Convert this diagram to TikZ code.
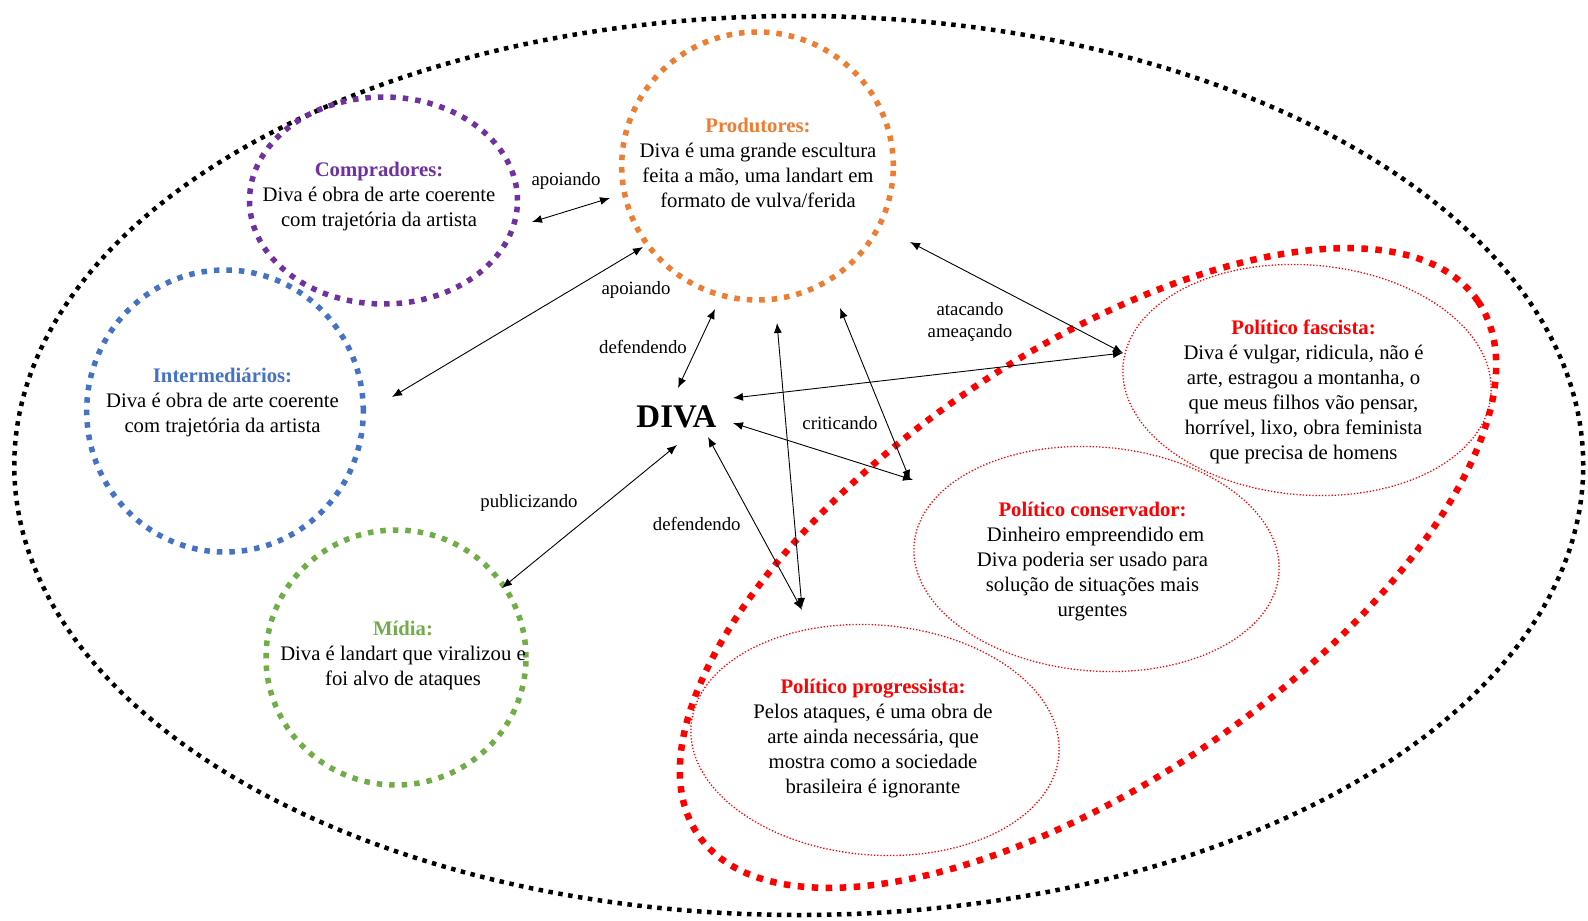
\documentclass[tikz,border=0pt]{standalone}
\usepackage{fontspec}
\setmainfont{Liberation Serif}
\usetikzlibrary{shapes.geometric,arrows.meta}
\definecolor{compcol}{HTML}{7030A0}
\definecolor{prodcol}{HTML}{ED7D31}
\definecolor{intercol}{HTML}{4472C4}
\definecolor{midiacol}{HTML}{70AD47}
\definecolor{polred}{HTML}{FF0000}
\begin{document}
\begin{tikzpicture}[x=1pt,y=-1pt,
  group/.style={ellipse, draw, inner sep=0pt, line width=5.5pt, dash pattern=on 5.5pt off 7pt},
  politico/.style={ellipse, draw=polred, inner sep=0pt, line width=1.3pt, dash pattern=on 1.3pt off 1.9pt, rotate=-4.5},
  body/.style={align=center, font=\fontsize{20.7}{25}\selectfont, inner sep=0pt},
  verb/.style={align=center, font=\fontsize{18.8}{22}\selectfont, inner sep=0pt},
  rel/.style={line width=0.9pt, {Latex[length=10pt,width=8pt]}-{Latex[length=10pt,width=8pt]}}]
\useasboundingbox (0,0) rectangle (1588,921);

% overall field and the political zone
\node[ellipse, draw, inner sep=0pt, line width=4.5pt, dash pattern=on 4.5pt off 5.5pt,
      minimum width=1569pt, minimum height=899pt] (campo) at (798.75,465.5) {};
\node[ellipse, draw=polred, inner sep=0pt, line width=6.5pt, dash pattern=on 6.5pt off 7.5pt,
      rotate=34.4, minimum width=945pt, minimum height=427pt] (politicos) at (1088,568) {};

% actor groups
\node[group, draw=compcol, minimum width=268pt, minimum height=207pt] (compradores) at (383.5,200.5) {};
\node[group, draw=prodcol, minimum width=271.6pt, minimum height=268pt] (produtores) at (757.5,166) {};
\node[group, draw=intercol, minimum width=276.6pt, minimum height=282pt] (intermediarios) at (225,411) {};
\node[group, draw=midiacol, minimum width=260pt, minimum height=255pt] (midia) at (396,657.5) {};

\node[politico, minimum width=369pt, minimum height=230pt] (fascista) at (1307,380) {};
\node[politico, minimum width=366pt, minimum height=224pt] (conservador) at (1096.5,559) {};
\node[politico, minimum width=369pt, minimum height=230pt] (progressista) at (875,740) {};

% texts
\node[body] (compT) at (379,196.5) {\textbf{\textcolor{compcol}{Compradores:}}\\Diva é obra de arte coerente\\com trajetória da artista};
\node[body] (prodT) at (758,162.5) {\textbf{\textcolor{prodcol}{Produtores:}}\\Diva é uma grande escultura\\feita a mão, uma landart em\\formato de vulva/ferida};
\node[body] (interT) at (222.5,402.5) {\textbf{\textcolor{intercol}{Intermediários:}}\\Diva é obra de arte coerente\\com trajetória da artista};
\node[body] (midiaT) at (403,655.5) {\textbf{\textcolor{midiacol}{Mídia:}}\\Diva é landart que viralizou e\\foi alvo de ataques};
\node[body] (fascT) at (1303.5,392) {\textbf{\textcolor{polred}{Político fascista:}}\\Diva é vulgar, ridicula, não é\\arte, estragou a montanha, o\\que meus filhos vão pensar,\\horrível, lixo, obra feminista\\que precisa de homens};
\node[body] (consT) at (1092.5,562) {\textbf{\textcolor{polred}{Político conservador:}}\\\hspace*{6pt}Dinheiro empreendido em\\Diva poderia ser usado para\\solução de situações mais\\urgentes};
\node[body] (progT) at (873,738.5) {\textbf{\textcolor{polred}{Político progressista:}}\\Pelos ataques, é uma obra de\\arte ainda necessária, que\\mostra como a sociedade\\brasileira é ignorante};

\node[font=\fontsize{33}{36}\bfseries\selectfont, inner sep=0pt] (diva) at (676.5,417) {DIVA};

% relations
\draw[rel] ([shift={(148.5,21.5)}]compradores.center) -- ([shift={(-147.5,32)}]produtores.center);
\draw[rel] ([shift={(167,-14)}]intermediarios.center) -- ([shift={(-114.5,81)}]produtores.center);
\draw[rel] ([shift={(-42.5,143)}]produtores.center) -- ([shift={(1.5,-29)}]diva.center);
\draw[rel] ([shift={(19.5,157)}]produtores.center) -- ([shift={(-73,-132)}]progressista.center);
\draw[rel] ([shift={(31.5,20)}]diva.center) -- ([shift={(-73,-130)}]progressista.center);
\draw[rel] ([shift={(82.5,142)}]produtores.center) -- ([shift={(-186.5,-79)}]conservador.center);
\draw[rel] ([shift={(56.5,6)}]diva.center) -- ([shift={(-183.5,-79)}]conservador.center);
\draw[rel] ([shift={(56.5,-19)}]diva.center) -- ([shift={(-184,-27)}]fascista.center);
\draw[rel] ([shift={(152.5,76)}]produtores.center) -- ([shift={(-184,-27)}]fascista.center);
\draw[rel] ([shift={(106,-69.5)}]midia.center) -- ([shift={(0.5,28)}]diva.center);

% relation labels
\node[verb] (lapoio1) at (566,181) {apoiando};
\node[verb] (lapoio2) at (636,290) {apoiando};
\node[verb] (ldef1) at (643,346.5) {defendendo};
\node[verb] (ldef2) at (696.7,524) {defendendo};
\node[verb] (lcrit) at (840,423) {criticando};
\node[verb] (latac) at (970,322) {atacando\\ameaçando};
\node[verb] (lpub) at (529,502.5) {publicizando};
\end{tikzpicture}
\end{document}
